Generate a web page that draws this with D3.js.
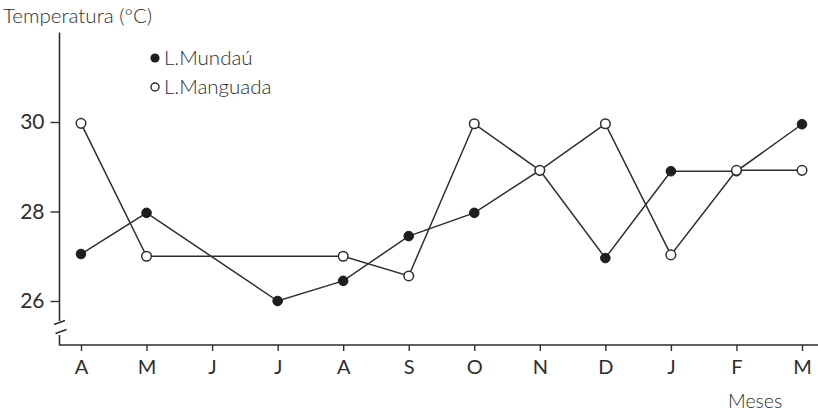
<!DOCTYPE html>
<html>
<head>
<meta charset="utf-8">
<script src="https://cdn.jsdelivr.net/npm/d3@7/dist/d3.min.js"></script>
<style>
  html, body { margin: 0; padding: 0; background: #fff; }
  svg { display: block; }
  text { font-family: Lato, "Open Sans", "DejaVu Sans", sans-serif; font-weight: 300; fill: #2e2e2e; }
</style>
</head>
<body>
<svg id="chart" width="818" height="412"></svg>
<script>
// Monthly water temperature, April to March
const months = ["A", "M", "J", "J", "A", "S", "O", "N", "D", "J", "F", "M"];
const mundau = [27.05, 27.97, null, 26.0, 26.45, 27.45, 27.97, 28.92, 26.96, 28.9, 28.9, 29.95];
const manguada = [29.97, 27.0, null, null, 27.0, 26.56, 29.96, 28.92, 29.96, 27.03, 28.92, 28.92];
const yTicks = [26, 28, 30];
const seriesNames = ["L.Mundaú", "L.Manguada"];

const svg = d3.select("#chart");
const ink = "#2e2e2e";
const labelFont = "Lato, 'Open Sans', sans-serif";

const x = d3.scaleLinear().domain([0, months.length - 1]).range([81, 802]);
const y = d3.scaleLinear().domain([26, 32]).range([301, 32.5]);

const axisX = 59.5, baseY = 345;

// y axis line with a break between 26 and the baseline
svg.append("path")
  .attr("d", `M${axisX},${y(32)}V321 M${axisX},335V${baseY}H818`)
  .attr("fill", "none").attr("stroke", ink).attr("stroke-width", 1.6);
svg.append("path")
  .attr("d", `M54,324.5L65,320.5 M55.5,333.5L66.5,329.5`)
  .attr("fill", "none").attr("stroke", ink).attr("stroke-width", 1.6);

// y ticks and labels
const yAxis = svg.append("g")
  .attr("transform", `translate(${axisX},0)`)
  .call(d3.axisLeft(y).tickValues(yTicks).tickSize(9).tickPadding(6).tickFormat(d3.format("d")));
yAxis.select(".domain").remove();
yAxis.selectAll("line").attr("stroke", ink).attr("stroke-width", 1.4);
yAxis.selectAll("text").attr("font-size", 21).attr("fill", ink)
  .style("font-family", labelFont).style("font-weight", 400);

// x ticks and month labels
const xAxis = svg.append("g")
  .attr("transform", `translate(0,${baseY})`)
  .call(d3.axisBottom(x).tickValues(d3.range(months.length)).tickSize(6).tickPadding(9)
    .tickFormat(i => months[i]));
xAxis.select(".domain").remove();
xAxis.selectAll("line").attr("stroke", ink).attr("stroke-width", 1.4);
xAxis.selectAll("text").attr("font-size", 20).attr("fill", ink)
  .style("font-family", labelFont).style("font-weight", 400);

// axis titles
svg.append("text").attr("x", 3).attr("y", 23).attr("font-size", 20.5).text("Temperatura (°C)");
svg.append("text").attr("x", 728).attr("y", 408).attr("font-size", 19.5).text("Meses");

// series: lines skip missing months, joining neighbouring points
const line = d3.line().x(d => x(d.i)).y(d => y(d.v));
function pts(vals) {
  return vals.map((v, i) => ({ i, v })).filter(d => d.v !== null);
}

[manguada, mundau].forEach(vals => {
  svg.append("path").datum(pts(vals))
    .attr("d", line).attr("fill", "none").attr("stroke", ink).attr("stroke-width", 1.5);
});

svg.append("g").selectAll("circle").data(pts(mundau)).join("circle")
  .attr("cx", d => x(d.i)).attr("cy", d => y(d.v)).attr("r", 4.8)
  .attr("fill", "#1e1e1e").attr("stroke", "#1e1e1e").attr("stroke-width", 1);
svg.append("g").selectAll("circle").data(pts(manguada)).join("circle")
  .attr("cx", d => x(d.i)).attr("cy", d => y(d.v)).attr("r", 4.8)
  .attr("fill", "#fff").attr("stroke", ink).attr("stroke-width", 1.5);

// legend
const legend = svg.append("g");
legend.append("circle").attr("cx", 155).attr("cy", 58).attr("r", 4.6).attr("fill", "#1e1e1e");
legend.append("text").attr("x", 164).attr("y", 65).attr("font-size", 20.5).text(seriesNames[0]);
legend.append("circle").attr("cx", 155).attr("cy", 87).attr("r", 4).attr("fill", "#fff")
  .attr("stroke", ink).attr("stroke-width", 1.5);
legend.append("text").attr("x", 164).attr("y", 94).attr("font-size", 20.5).text(seriesNames[1]);
</script>
</body>
</html>
